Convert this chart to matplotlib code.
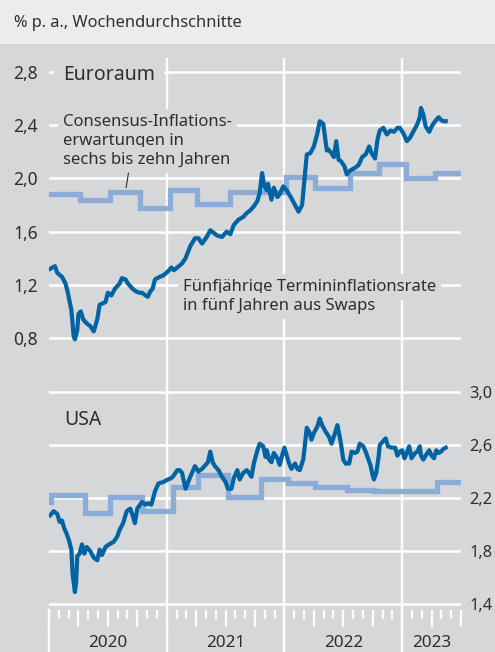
import matplotlib
matplotlib.use("Agg")
import matplotlib.pyplot as plt
from matplotlib.patches import Rectangle

plt.rcParams['font.family'] = ['Noto Sans', 'DejaVu Sans']

# Euroraum: fünfjährige Termininflationsrate in fünf Jahren (Wochendurchschnitte, Dezimaljahr)
eu_t = [2020.01, 2020.05, 2020.07, 2020.11, 2020.14, 2020.16, 2020.19, 2020.21, 2020.22, 2020.24,
        2020.25, 2020.27, 2020.29, 2020.32, 2020.35, 2020.38, 2020.41, 2020.43, 2020.48, 2020.50,
        2020.53, 2020.56, 2020.60, 2020.62, 2020.65, 2020.67, 2020.71, 2020.74, 2020.77, 2020.79,
        2020.82, 2020.84, 2020.86, 2020.88, 2020.90, 2020.94, 2020.97,
        2021.01, 2021.04, 2021.06, 2021.09, 2021.13, 2021.16, 2021.20, 2021.24, 2021.27, 2021.30,
        2021.34, 2021.37, 2021.40, 2021.43, 2021.47, 2021.51, 2021.54, 2021.57, 2021.61, 2021.65,
        2021.68, 2021.71, 2021.74, 2021.77, 2021.79, 2021.81, 2021.83, 2021.85, 2021.86, 2021.89,
        2021.91, 2021.94, 2021.96, 2021.99,
        2022.02, 2022.06, 2022.09, 2022.12, 2022.15, 2022.17, 2022.19, 2022.22, 2022.25, 2022.28,
        2022.30, 2022.33, 2022.36, 2022.37, 2022.40, 2022.42, 2022.44, 2022.46, 2022.48, 2022.51,
        2022.53, 2022.56, 2022.60, 2022.63, 2022.66, 2022.69, 2022.72, 2022.74, 2022.77, 2022.79,
        2022.81, 2022.84, 2022.87, 2022.90, 2022.93, 2022.96, 2022.98,
        2023.01, 2023.04, 2023.07, 2023.10, 2023.13, 2023.15, 2023.16, 2023.18, 2023.20, 2023.23,
        2023.25, 2023.28, 2023.31, 2023.33, 2023.35, 2023.37]
eu_v = [1.32, 1.34, 1.29, 1.26, 1.21, 1.14, 1.01, 0.81, 0.79, 0.86,
        0.98, 1.00, 0.94, 0.91, 0.89, 0.85, 0.94, 1.05, 1.07, 1.14,
        1.12, 1.17, 1.21, 1.25, 1.24, 1.21, 1.17, 1.15, 1.14, 1.14,
        1.12, 1.11, 1.15, 1.17, 1.24, 1.26, 1.27,
        1.30, 1.33, 1.31, 1.33, 1.36, 1.40, 1.49, 1.55, 1.55, 1.51,
        1.56, 1.61, 1.59, 1.57, 1.56, 1.60, 1.58, 1.65, 1.69, 1.71,
        1.74, 1.76, 1.79, 1.83, 1.89, 2.04, 1.94, 1.91, 1.96, 1.84,
        1.93, 1.86, 1.88, 1.94,
        1.91, 1.85, 1.80, 1.75, 1.80, 1.99, 2.18, 2.19, 2.24, 2.34,
        2.43, 2.41, 2.21, 2.22, 2.19, 2.16, 2.28, 2.14, 2.13, 2.09,
        2.03, 2.06, 2.08, 2.10, 2.16, 2.18, 2.24, 2.19, 2.15, 2.29,
        2.36, 2.38, 2.33, 2.36, 2.35, 2.38, 2.38,
        2.34, 2.28, 2.31, 2.36, 2.41, 2.46, 2.53, 2.48, 2.39, 2.35,
        2.39, 2.43, 2.46, 2.44, 2.43, 2.43]

# Euroraum: Consensus-Inflationserwartungen in sechs bis zehn Jahren (Umfragetermine)
eu_cons_t = [2020.00, 2020.26, 2020.52, 2020.77, 2021.03, 2021.26, 2021.54, 2021.77,
             2022.01, 2022.26, 2022.56, 2022.80, 2023.03, 2023.28]
eu_cons_v = [1.88, 1.84, 1.90, 1.78, 1.91, 1.81, 1.90, 1.90,
             2.01, 1.93, 2.04, 2.11, 2.00, 2.04]

# USA
us_t = [2020.01, 2020.04, 2020.07, 2020.09, 2020.11, 2020.13, 2020.15, 2020.17, 2020.19, 2020.20,
        2020.22, 2020.23, 2020.24, 2020.26, 2020.28, 2020.30, 2020.32, 2020.35, 2020.38, 2020.41,
        2020.43, 2020.45, 2020.48, 2020.51, 2020.55, 2020.58, 2020.60, 2020.63, 2020.66, 2020.69,
        2020.71, 2020.73, 2020.75, 2020.79, 2020.82, 2020.84, 2020.87, 2020.90, 2020.93, 2020.97,
        2021.01, 2021.04, 2021.06, 2021.09, 2021.11, 2021.13, 2021.16, 2021.20, 2021.24, 2021.27,
        2021.30, 2021.33, 2021.35, 2021.37, 2021.39, 2021.41, 2021.44, 2021.47, 2021.50, 2021.52,
        2021.55, 2021.57, 2021.60, 2021.62, 2021.65, 2021.68, 2021.69, 2021.72, 2021.74, 2021.77,
        2021.79, 2021.82, 2021.84, 2021.85, 2021.87, 2021.89, 2021.91, 2021.94, 2021.96, 2021.98,
        2022.00, 2022.02, 2022.04, 2022.06, 2022.09, 2022.11, 2022.13, 2022.16, 2022.19, 2022.21,
        2022.23, 2022.25, 2022.28, 2022.30, 2022.32, 2022.35, 2022.38, 2022.40, 2022.43, 2022.45,
        2022.47, 2022.48, 2022.50, 2022.52, 2022.55, 2022.57, 2022.60, 2022.62, 2022.64, 2022.67,
        2022.69, 2022.71, 2022.73, 2022.75, 2022.76, 2022.78, 2022.80, 2022.81, 2022.84, 2022.86,
        2022.88, 2022.91, 2022.94, 2022.96, 2022.98,
        2023.00, 2023.02, 2023.04, 2023.06, 2023.08, 2023.11, 2023.13, 2023.15, 2023.16, 2023.18,
        2023.20, 2023.23, 2023.25, 2023.27, 2023.29, 2023.31, 2023.33, 2023.35, 2023.37]
us_v = [2.07, 2.10, 2.08, 2.02, 2.03, 1.97, 1.93, 1.88, 1.81, 1.63,
        1.49, 1.56, 1.76, 1.78, 1.85, 1.78, 1.83, 1.80, 1.75, 1.73,
        1.81, 1.77, 1.83, 1.85, 1.87, 1.91, 1.96, 2.01, 2.10, 2.12,
        2.07, 2.01, 2.12, 2.17, 2.15, 2.16, 2.15, 2.25, 2.31, 2.32,
        2.34, 2.35, 2.37, 2.41, 2.41, 2.39, 2.27, 2.36, 2.44, 2.40,
        2.42, 2.45, 2.47, 2.55, 2.47, 2.44, 2.41, 2.36, 2.32, 2.27,
        2.27, 2.35, 2.41, 2.34, 2.39, 2.41, 2.40, 2.36, 2.46, 2.56,
        2.61, 2.59, 2.51, 2.56, 2.49, 2.47, 2.54, 2.50, 2.45, 2.52,
        2.58, 2.52, 2.46, 2.42, 2.46, 2.42, 2.41, 2.49, 2.73, 2.70,
        2.64, 2.69, 2.74, 2.80, 2.75, 2.70, 2.66, 2.61, 2.69, 2.75,
        2.66, 2.61, 2.49, 2.46, 2.46, 2.55, 2.54, 2.55, 2.61, 2.59,
        2.55, 2.50, 2.45, 2.37, 2.34, 2.39, 2.51, 2.60, 2.63, 2.65,
        2.59, 2.58, 2.58, 2.52, 2.55,
        2.56, 2.50, 2.54, 2.59, 2.50, 2.54, 2.55, 2.59, 2.52, 2.49,
        2.52, 2.56, 2.52, 2.50, 2.56, 2.54, 2.55, 2.57, 2.58]

us_cons_t = [2020.00, 2020.02, 2020.31, 2020.52, 2020.79, 2021.05, 2021.27, 2021.52,
             2021.80, 2022.03, 2022.26, 2022.53, 2022.76, 2023.03, 2023.30]
us_cons_v = [2.17, 2.22, 2.09, 2.21, 2.10, 2.28, 2.37, 2.21,
             2.34, 2.31, 2.28, 2.26, 2.25, 2.25, 2.32]

years = [2020, 2021, 2022, 2023]
eu_ticks = [0.8, 1.2, 1.6, 2.0, 2.4, 2.8]
us_ticks = [1.4, 1.8, 2.2, 2.6, 3.0]
x_start, x_end = 2020.0, 2023.5

GREY = '#d6d7d9'
BAND = '#ececed'
DARK = '#0063a3'
LIGHT = '#8aacd6'
TXT = '#2e2e2e'

W, H = 495, 652
fig = plt.figure(figsize=(W / 100, H / 100), dpi=100, facecolor=GREY)
fig.add_artist(Rectangle((0, 1 - 44 / H), 1, 44 / H, transform=fig.transFigure,
                         facecolor=BAND, edgecolor='none', zorder=0))
fig.text(14 / W, 1 - 23 / H, '% p. a., Wochendurchschnitte', fontsize=11.8,
         color=TXT, va='center', ha='left')


def px_axes(x0, y0, x1, y1, z):
    # pixel box (y measured from the top) -> figure axes
    ax = fig.add_axes([x0 / W, 1 - y1 / H, (x1 - x0) / W, (y1 - y0) / H], zorder=z)
    ax.patch.set_visible(False)
    for s in ax.spines.values():
        s.set_visible(False)
    ax.set_xlim(x_start, x_end)
    return ax


def fmt(v):
    return f'{v:.1f}'.replace('.', ',')


L, R = 49, 461

# background: year separators
ax_bg = px_axes(L, 58, R, H, 1)
ax_bg.set_xticks([])
ax_bg.set_yticks([])
for yr in years[1:]:
    ax_bg.axvline(yr, color='white', lw=1.7)

# tick strip below the charts
ax_st = px_axes(L, 610, R, H, 2)
ax_st.set_yticks([])
months = [x_start + m / 12 for m in range(int((x_end - x_start) * 12) + 1)]
ax_st.set_xticks(months[::3])
ax_st.set_xticks(months, minor=True)
ax_st.xaxis.set_ticks_position('top')
ax_st.tick_params(axis='x', which='major', direction='in', length=12.5, width=1.6,
                  color='white', labeltop=False, labelbottom=False)
ax_st.tick_params(axis='x', which='minor', direction='in', length=6.5, width=1.6,
                  color='white')
ax_st.axvline(x_start, color='white', lw=1.7, clip_on=False)
for yr in years:
    mid = (yr + min(yr + 1, x_end)) / 2
    ax_st.text(mid, 0.12, str(yr), transform=ax_st.get_xaxis_transform(),
               ha='center', va='baseline', fontsize=12.3, color=TXT)

box = dict(boxstyle='square,pad=0.3', facecolor=GREY, edgecolor='none')

# ---- Euroraum panel
ax_eu = px_axes(L, 50, R, 360, 3)
k = 2.0 / (338 - 72)
ax_eu.set_ylim(0.8 - (360 - 338) * k, 2.8 + (72 - 50) * k)
ax_eu.set_yticks(eu_ticks)
ax_eu.set_yticklabels([fmt(v) for v in eu_ticks])
ax_eu.set_xticks([])
ax_eu.tick_params(axis='y', length=0, pad=8, labelsize=12.5, labelcolor=TXT)
ax_eu.grid(axis='y', color='white', lw=1.8)
ax_eu.set_axisbelow(True)
ax_eu.plot(eu_cons_t + [x_end], eu_cons_v + [eu_cons_v[-1]], drawstyle='steps-post',
           color=LIGHT, lw=3.8, solid_joinstyle='miter', zorder=3)
ax_eu.plot(eu_t, eu_v, color=DARK, lw=3.0, solid_joinstyle='round', zorder=4)

ax_eu.text(63 / W, 1 - 80 / H, 'Euroraum', transform=fig.transFigure, fontsize=14,
           color=TXT, va='baseline', bbox=dict(boxstyle='square,pad=0.45',
                                               facecolor=GREY, edgecolor='none'), zorder=6)
for i, line in enumerate(['Consensus-Inflations-', 'erwartungen in', 'sechs bis zehn Jahren']):
    ax_eu.text(63 / W, 1 - (126 + 19 * i) / H, line, transform=fig.transFigure,
               fontsize=12, color=TXT, va='baseline', bbox=box, zorder=6)
ax_eu.annotate('', xy=(2020.655, 1.93), xytext=(2020.675, 2.04),
               arrowprops=dict(arrowstyle='-', color=TXT, lw=0.8, shrinkA=0, shrinkB=0),
               zorder=6)
for i, line in enumerate(['Fünfjährige Termininflationsrate', 'in fünf Jahren aus Swaps']):
    ax_eu.text(183 / W, 1 - (291 + 19 * i) / H, line, transform=fig.transFigure,
               fontsize=12, color=TXT, va='baseline', bbox=box, zorder=6)

# ---- USA panel
ax_us = px_axes(L, 368, R, 606, 3)
k = 1.6 / (604 - 392)
ax_us.set_ylim(1.4 - (606 - 604) * k, 3.0 + (392 - 368) * k)
ax_us.set_yticks(us_ticks)
ax_us.set_yticklabels([fmt(v) for v in us_ticks])
ax_us.yaxis.tick_right()
ax_us.set_xticks([])
ax_us.tick_params(axis='y', length=0, pad=6, labelsize=11.8, labelcolor=TXT)
ax_us.grid(axis='y', color='white', lw=1.8)
ax_us.set_axisbelow(True)
ax_us.plot(us_cons_t + [x_end], us_cons_v + [us_cons_v[-1]], drawstyle='steps-post',
           color=LIGHT, lw=3.8, solid_joinstyle='miter', zorder=3)
ax_us.plot(us_t, us_v, color=DARK, lw=3.0, solid_joinstyle='round', zorder=4)
ax_us.text(64 / W, 1 - 425 / H, 'USA', transform=fig.transFigure, fontsize=14,
           color=TXT, va='baseline', zorder=6)

fig.savefig('out.png', dpi=100, facecolor=GREY)
